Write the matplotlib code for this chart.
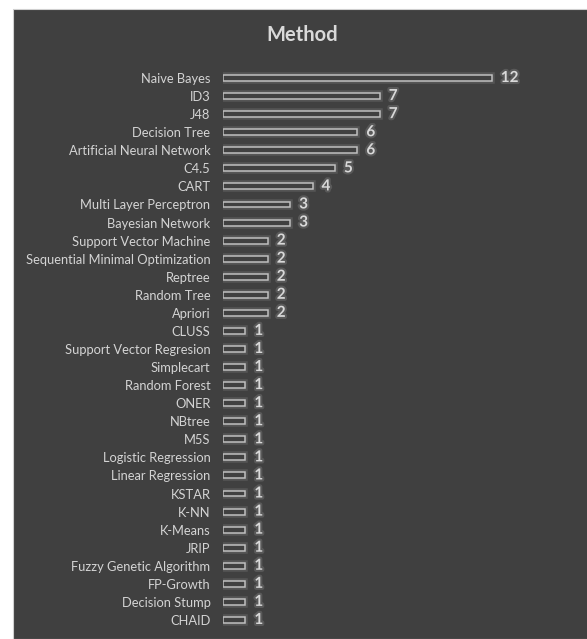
import matplotlib
matplotlib.use('Agg')
import matplotlib.pyplot as plt
import matplotlib.patheffects as pe
from matplotlib.patches import Rectangle

methods = ['Naive Bayes', 'ID3', 'J48', 'Decision Tree', 'Artificial Neural Network',
           'C4.5', 'CART', 'Multi Layer Perceptron', 'Bayesian Network',
           'Support Vector Machine', 'Sequential Minimal Optimization', 'Reptree',
           'Random Tree', 'Apriori', 'CLUSS', 'Support Vector Regresion', 'Simplecart',
           'Random Forest', 'ONER', 'NBtree', 'M5S', 'Logistic Regression',
           'Linear Regression', 'KSTAR', 'K-NN', 'K-Means', 'JRIP',
           'Fuzzy Genetic Algorithm', 'FP-Growth', 'Decision Stump', 'CHAID']
counts = [12, 7, 7, 6, 6, 5, 4, 3, 3, 2, 2, 2, 2, 2,
          1, 1, 1, 1, 1, 1, 1, 1, 1, 1, 1, 1, 1, 1, 1, 1, 1]

plt.rcParams['font.family'] = ['Lato', 'DejaVu Sans']

fig = plt.figure(figsize=(5.87, 6.39), dpi=100)
fig.patch.set_facecolor('white')
# dark chart area
fig.add_artist(Rectangle((13 / 587, 0), 1, 1 - 9 / 639, transform=fig.transFigure,
                         facecolor='#404040', edgecolor='#d0d0d0', lw=0.8, zorder=0))

ax = fig.add_axes([223 / 587, 10 / 639, 364 / 587, 1 - 69 / 639 - 10 / 639])
ax.set_facecolor('none')

ypos = list(range(len(methods)))
glow = [pe.withStroke(linewidth=4, foreground='#555555')]
bars = ax.barh(ypos, counts, height=0.33, color='#404040', edgecolor='#bfbfbf',
               linewidth=1.1, zorder=3)
for b in bars:
    b.set_path_effects(glow)

for y, v in zip(ypos, counts):
    ax.text(v + 0.4, y, str(v), va='center', ha='left', fontsize=11,
            fontweight='bold', color='#d9d9d9', zorder=4,
            path_effects=[pe.withStroke(linewidth=3, foreground='#595959')])

ax.set_yticks(ypos)
ax.set_yticklabels(methods, color='#d4d4d4', fontsize=9.3)
ax.tick_params(axis='y', length=0, pad=9)
ax.set_xticks([])
ax.set_xlim(0, 364 / 22.4)
ax.set_ylim(len(methods) - 0.5, -0.5)
for s in ax.spines.values():
    s.set_visible(False)

fig.text(302 / 587, 1 - 35 / 639, 'Method', ha='center', va='center',
         fontsize=14.5, fontweight='bold', color='#d9d9d9')

plt.savefig('out.png', dpi=100)
plt.close()
